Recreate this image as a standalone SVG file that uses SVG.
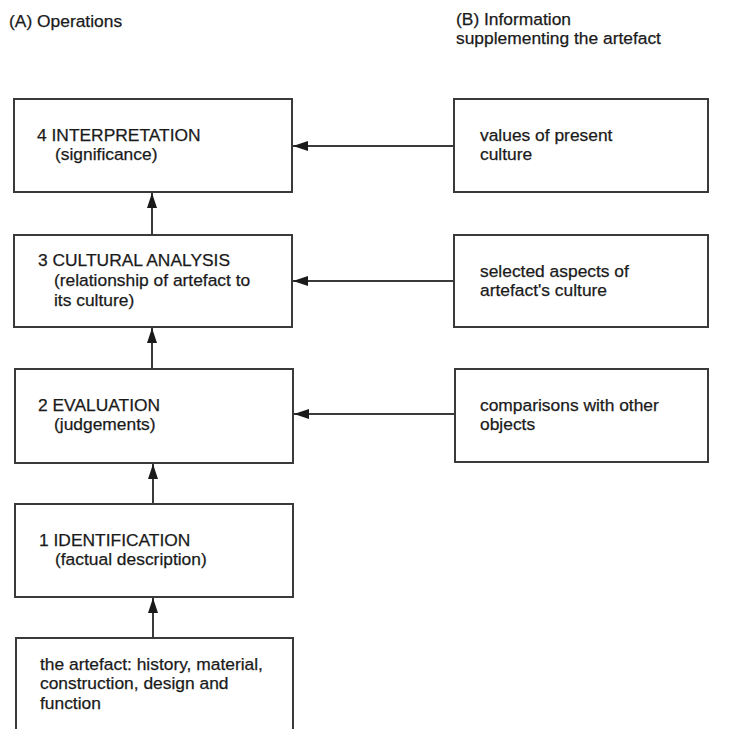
<svg xmlns="http://www.w3.org/2000/svg" width="729" height="729" viewBox="0 0 729 729">
<style>
  .box { fill: #ffffff; stroke: #3a3a3a; stroke-width: 2; }
  .t { font-family: "Liberation Sans", Arial, sans-serif; font-size: 17.4px; fill: #1a1a1a; stroke: #1a1a1a; stroke-width: 0.25; }
  .c { stroke: #3a3a3a; stroke-width: 2; fill: none; }
</style>
<defs>
  <marker id="ah" viewBox="0 0 15 10" refX="15" refY="5" markerWidth="15" markerHeight="10" markerUnits="userSpaceOnUse" orient="auto">
    <path d="M0,0 L15,5 L0,10 Z" fill="#1a1a1a"/>
  </marker>
</defs>
<rect width="729" height="729" fill="#ffffff"/>

<g id="headers">
  <text class="t" x="9" y="27">(A) Operations</text>
  <text class="t" x="456" y="25">(B) Information</text>
  <text class="t" x="456" y="44">supplementing the artefact</text>
</g>

<g id="n4">
  <rect class="box" x="14" y="99" width="278" height="93"/>
  <text class="t" x="37" y="141">4 INTERPRETATION</text>
  <text class="t" x="55" y="160">(significance)</text>
</g>
<g id="n3">
  <rect class="box" x="14" y="235" width="278" height="92"/>
  <text class="t" x="38" y="266">3 CULTURAL ANALYSIS</text>
  <text class="t" x="54" y="286">(relationship of artefact to</text>
  <text class="t" x="54" y="306">its culture)</text>
</g>
<g id="n2">
  <rect class="box" x="15" y="369" width="278" height="94"/>
  <text class="t" x="38" y="411">2 EVALUATION</text>
  <text class="t" x="54" y="430">(judgements)</text>
</g>
<g id="n1">
  <rect class="box" x="15" y="504" width="278" height="93"/>
  <text class="t" x="39" y="546">1 IDENTIFICATION</text>
  <text class="t" x="55" y="565">(factual description)</text>
</g>
<g id="n0">
  <path class="box" d="M16,740 L16,638 L293,638 L293,740"/>
  <text class="t" x="40" y="670">the artefact: history, material,</text>
  <text class="t" x="40" y="689">construction, design and</text>
  <text class="t" x="40" y="709">function</text>
</g>

<g id="b4">
  <rect class="box" x="454" y="99" width="254" height="93"/>
  <text class="t" x="480" y="141">values of present</text>
  <text class="t" x="480" y="160">culture</text>
</g>
<g id="b3">
  <rect class="box" x="454" y="235" width="254" height="92"/>
  <text class="t" x="480" y="277">selected aspects of</text>
  <text class="t" x="480" y="296">artefact's culture</text>
</g>
<g id="b2">
  <rect class="box" x="455" y="369" width="253" height="93"/>
  <text class="t" x="480" y="411">comparisons with other</text>
  <text class="t" x="480" y="430">objects</text>
</g>

<g id="connectors">
  <line class="c" x1="454" y1="146" x2="293" y2="146" marker-end="url(#ah)"/>
  <line class="c" x1="454" y1="281" x2="293" y2="281" marker-end="url(#ah)"/>
  <line class="c" x1="455" y1="414" x2="294" y2="414" marker-end="url(#ah)"/>
  <line class="c" x1="152" y1="235" x2="152" y2="193" marker-end="url(#ah)"/>
  <line class="c" x1="152" y1="369" x2="152" y2="328" marker-end="url(#ah)"/>
  <line class="c" x1="153" y1="504" x2="153" y2="464" marker-end="url(#ah)"/>
  <line class="c" x1="153" y1="638" x2="153" y2="598" marker-end="url(#ah)"/>
</g>
</svg>
